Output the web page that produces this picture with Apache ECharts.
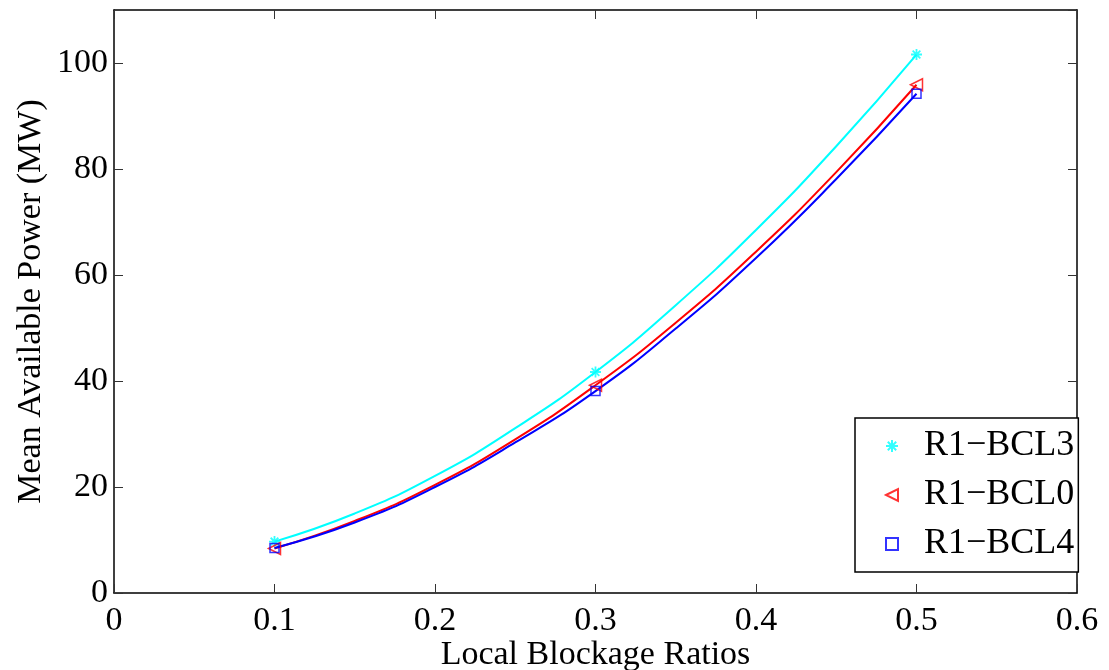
<!DOCTYPE html>
<html>
<head>
<meta charset="utf-8">
<script src="https://cdn.jsdelivr.net/npm/echarts@6/dist/echarts.min.js"></script>
<style>html,body{margin:0;padding:0;background:#fff;}#c{width:1109px;height:670px;}</style>
</head>
<body>
<div id="c"></div>
<script>
// Data
const seriesNames = ['R1\u2212BCL3', 'R1\u2212BCL0', 'R1\u2212BCL4'];
const markerX = [0.1, 0.3, 0.5];
const bcl3Markers = [9.7, 41.7, 101.6];
const bcl0Markers = [8.4, 39.2, 95.9];
const bcl4Markers = [8.5, 38.1, 94.2];
// fitted curves
const curveX = [0.1, 0.15, 0.2, 0.25, 0.3, 0.35, 0.4, 0.45, 0.5];
const bcl3Curve = [9.7, 15.0, 22.1, 31.1, 41.7, 54.3, 68.5, 84.3, 101.6];
const bcl0Curve = [8.4, 13.6, 20.4, 29.0, 39.2, 51.0, 64.4, 79.4, 95.9];
const bcl4Curve = [8.5, 13.3, 20.0, 28.4, 38.1, 49.9, 63.2, 78.1, 94.2];
const xTicks = [0, 0.1, 0.2, 0.3, 0.4, 0.5, 0.6];
const yTicks = [0, 20, 40, 60, 80, 100];

const FONT = 'Liberation Serif';
const colors = ['#00FFFF', '#FF0000', '#0000FF'];
const asterisk = 'path://M5,0L5,10M0,5L10,5M1.5,1.5L8.5,8.5M1.5,8.5L8.5,1.5';
const leftTri = 'path://M0,5L10,0L10,10Z';
const square = 'path://M0,0L10,0L10,10L0,10Z';

const zip = (xs, ys) => xs.map((x, i) => [x, ys[i]]);
const chart = echarts.init(document.getElementById('c'), null, {renderer: 'canvas'});

const axisCommon = {
  axisLine: {show: true, onZero: false, lineStyle: {color: '#000', width: 1.5}},
  axisTick: {show: true, inside: true, length: 9, lineStyle: {color: '#333', width: 1}},
  splitLine: {show: false}
};

const option = {
  animation: false,
  backgroundColor: '#fff',
  grid: {left: 114, right: 32, top: 10, bottom: 77, containLabel: false, outerBoundsMode: 'none'},
  xAxis: [
    Object.assign({
      type: 'value', min: xTicks[0], max: xTicks[xTicks.length - 1], interval: 0.1,
      name: 'Local Blockage Ratios', nameLocation: 'middle', nameGap: 45, nameMoveOverlap: false,
      nameTextStyle: {fontFamily: FONT, fontSize: 34, color: '#000'},
      axisLabel: {fontFamily: FONT, fontSize: 34, color: '#000', margin: 11,
        formatter: v => (Math.abs(v) < 1e-9 ? '0' : (+v).toFixed(1))}
    }, axisCommon),
    Object.assign({
      type: 'value', position: 'top', min: xTicks[0], max: xTicks[xTicks.length - 1], interval: 0.1,
      axisLabel: {show: false}
    }, axisCommon)
  ],
  yAxis: [
    Object.assign({
      type: 'value', min: 0, max: 110, interval: 20,
      name: 'Mean Available Power (MW)', nameLocation: 'middle', nameGap: 66, nameMoveOverlap: false,
      nameTextStyle: {fontFamily: FONT, fontSize: 34, color: '#000'},
      axisLabel: {fontFamily: FONT, fontSize: 34, color: '#000', margin: 6, showMaxLabel: false,
        formatter: v => (yTicks.indexOf(Math.round(v)) >= 0 && Math.abs(v - Math.round(v)) < 1e-9 ? String(Math.round(v)) : '')}
    }, axisCommon),
    Object.assign({
      type: 'value', position: 'right', min: 0, max: 110, interval: 20,
      axisLabel: {show: false}
    }, axisCommon)
  ],
  legend: {
    data: seriesNames,
    orient: 'vertical',
    left: 855, top: 418,
    padding: [8, 4, 8, 30],
    itemWidth: 12, itemHeight: 12, itemGap: 9,
    backgroundColor: '#fff',
    borderColor: '#000', borderWidth: 1.5, borderRadius: 0,
    textStyle: {fontFamily: FONT, fontSize: 36, color: '#000', lineHeight: 40, padding: [0, 0, 0, 21]}
  },
  series: [
    {type: 'line', name: '_c3', data: zip(curveX, bcl3Curve), smooth: true, showSymbol: false,
      lineStyle: {color: colors[0], width: 2}, z: 2, silent: true},
    {type: 'line', name: '_c0', data: zip(curveX, bcl0Curve), smooth: true, showSymbol: false,
      lineStyle: {color: colors[1], width: 2}, z: 2, silent: true},
    {type: 'line', name: '_c4', data: zip(curveX, bcl4Curve), smooth: true, showSymbol: false,
      lineStyle: {color: colors[2], width: 2}, z: 2, silent: true},
    {type: 'scatter', name: seriesNames[0], data: zip(markerX, bcl3Markers), symbol: asterisk, symbolSize: 11,
      itemStyle: {color: 'rgba(0,0,0,0)', borderColor: colors[0], borderWidth: 1.8}, z: 5},
    {type: 'scatter', name: seriesNames[1], data: zip(markerX, bcl0Markers), symbol: leftTri, symbolSize: 12,
      itemStyle: {color: 'rgba(0,0,0,0)', borderColor: colors[1], borderWidth: 1.5}, z: 5},
    {type: 'scatter', name: seriesNames[2], data: zip(markerX, bcl4Markers), symbol: square, symbolSize: 9,
      itemStyle: {color: 'rgba(0,0,0,0)', borderColor: colors[2], borderWidth: 1.5}, z: 5}
  ]
};
chart.setOption(option);
</script>
</body>
</html>
